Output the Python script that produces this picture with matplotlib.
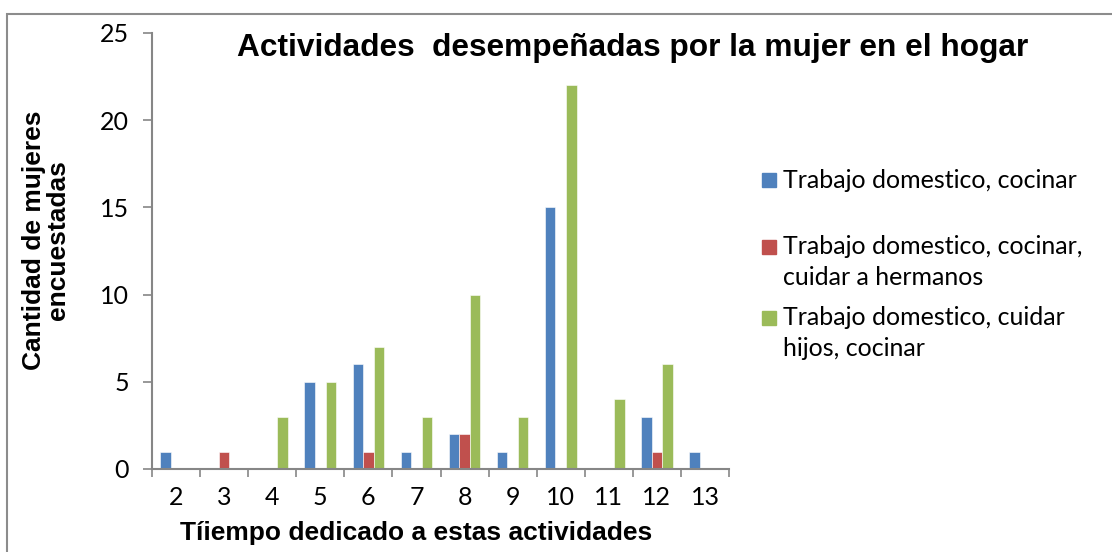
import numpy as np
import matplotlib.pyplot as plt
from matplotlib.patches import Rectangle

categories = ["2", "3", "4", "5", "6", "7", "8", "9", "10", "11", "12", "13"]
series_names = ["Trabajo domestico, cocinar",
                "Trabajo domestico, cocinar,\ncuidar a hermanos",
                "Trabajo domestico, cuidar\nhijos, cocinar"]
cocinar = [1, 0, 0, 5, 6, 1, 2, 1, 15, 0, 3, 1]
hermanos = [0, 1, 0, 0, 1, 0, 2, 0, 0, 0, 1, 0]
hijos = [0, 0, 3, 5, 7, 3, 10, 3, 22, 4, 6, 0]
yticks = [0, 5, 10, 15, 20, 25]

COLS = ["#4f81bd", "#c0504d", "#9bbb59"]
BODY = "Lato"
BOLD = "Liberation Sans"
W, H = 1112, 552

fig = plt.figure(figsize=(W / 100, H / 100), dpi=100)
ax = fig.add_axes([152 / W, 1 - 469 / H, 577 / W, 436 / H])

# outer chart frame (open at right/bottom, as in the crop)
fig.patches.append(Rectangle((7 / W, -0.1), 1.2, 1 - 14 / H + 0.1,
                             transform=fig.transFigure, fill=False,
                             edgecolor="#8c8c8c", linewidth=1.5))

x = np.arange(len(categories))
w = 0.22
for i, vals in enumerate([cocinar, hermanos, hijos]):
    ax.bar(x + (i - 1) * w, vals, w, color=COLS[i],
           edgecolor="white", linewidth=0.4)

ax.set_xlim(-0.5, len(categories) - 0.5)
ax.set_ylim(0, 25)
ax.set_yticks(yticks)
ax.set_xticks(x)
ax.set_xticklabels(categories, fontfamily=BODY, fontsize=18)
ax.set_xticks(np.arange(-0.5, len(categories)), minor=True)
ax.tick_params(axis="x", which="major", length=0, pad=12)
ax.tick_params(axis="x", which="minor", length=6, color="#868686", width=1.2)
ax.tick_params(axis="y", length=6.5, color="#868686", width=1.2, labelsize=18, pad=10)
for lab in ax.get_yticklabels():
    lab.set_fontfamily(BODY)

for s in ["top", "right"]:
    ax.spines[s].set_visible(False)
for s in ["left", "bottom"]:
    ax.spines[s].set_color("#868686")
    ax.spines[s].set_linewidth(1.5)

fig.text(633 / W, 1 - 48 / H, "Actividades  desempeñadas por la mujer en el hogar",
         ha="center", va="center", fontfamily=BOLD, fontweight="bold", fontsize=22.8)
fig.text(46 / W, 1 - 240 / H, "Cantidad de mujeres\nencuestadas",
         ha="center", va="center", rotation=90, fontfamily=BOLD,
         fontweight="bold", fontsize=19, linespacing=1.0)
fig.text(416 / W, 1 - 533 / H, "Tíiempo dedicado a estas actividades",
         ha="center", va="center", fontfamily=BOLD, fontweight="bold", fontsize=19)

# legend, laid out like the original (uneven gaps between entries)
leg_y = [180, 262, 333]
sq_y = [180, 247, 318]
for name, col, ty, sy in zip(series_names, COLS, leg_y, sq_y):
    fig.patches.append(Rectangle((762 / W, 1 - (sy + 7) / H), 14 / W, 14 / H,
                                 transform=fig.transFigure, color=col))
    fig.text(783 / W, 1 - ty / H, name, ha="left", va="center",
             fontfamily=BODY, fontsize=18, linespacing=1.38)

fig.savefig("out.png", dpi=100)
